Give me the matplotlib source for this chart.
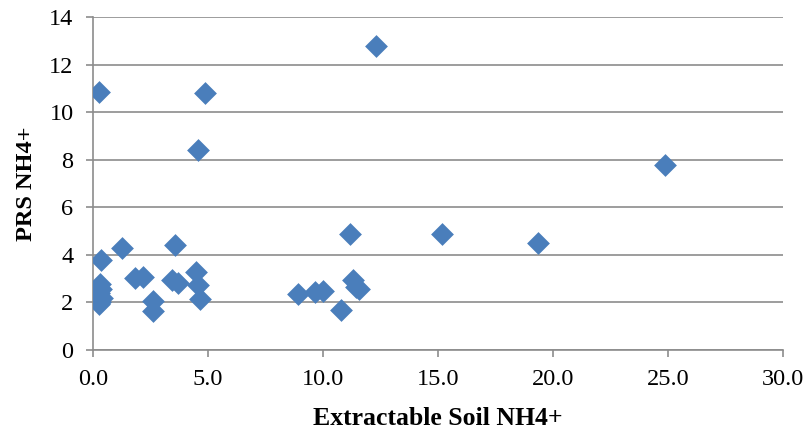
import numpy as np
import matplotlib.pyplot as plt

# Extractable soil NH4+ vs PRS NH4+
soil_nh4 = [0.26, 4.87, 4.57, 12.3, 24.87, 1.25, 3.57, 0.33, 11.17, 15.17, 19.35,
            1.83, 2.16, 3.42, 3.71, 4.48, 4.58, 4.65, 2.59, 2.62,
            0.3, 0.35, 0.28, 0.38, 0.25, 0.32,
            8.9, 9.65, 10.0, 10.78, 11.3, 11.45, 11.55]
prs_nh4 = [10.84, 10.8, 8.4, 12.77, 7.77, 4.3, 4.43, 3.77, 4.87, 4.87, 4.5,
           3.01, 3.08, 2.94, 2.83, 3.26, 2.73, 2.15, 2.07, 1.65,
           2.78, 2.58, 2.38, 2.18, 1.92, 2.0,
           2.35, 2.44, 2.46, 1.68, 2.94, 2.65, 2.56]

plt.rcParams['font.family'] = ['Liberation Serif', 'DejaVu Serif']

fig = plt.figure(figsize=(8.12, 4.38), dpi=100)
ax = fig.add_axes([0.1145, 0.2009, 0.8495, 0.7603])

ax.scatter(soil_nh4, prs_nh4, marker='D', s=135, color='#4A7EBB', zorder=3, linewidths=0)

ax.set_xlim(0, 30)
ax.set_ylim(0, 14)
ax.set_xticks(np.arange(0, 31, 5))
ax.set_xticklabels([f'{v:.1f}' for v in np.arange(0, 31, 5)])
ax.set_yticks(np.arange(0, 15, 2))

ax.yaxis.grid(True, color='#8c8c8c', linewidth=1.2)
ax.set_axisbelow(True)
for s in ['top', 'right']:
    ax.spines[s].set_visible(False)
for s in ['left', 'bottom']:
    ax.spines[s].set_color('#8c8c8c')
    ax.spines[s].set_linewidth(1.2)
ax.tick_params(direction='out', length=5, color='#8c8c8c', width=1.2, labelsize=17.5)
ax.tick_params(axis='x', pad=9)
ax.tick_params(axis='y', pad=9)

ax.set_xlabel('Extractable Soil NH4+', fontsize=18.5, fontweight='bold', labelpad=12)
ax.set_ylabel('PRS NH4+', fontsize=17.5, fontweight='bold', labelpad=9)

fig.savefig('out.png', dpi=100)
